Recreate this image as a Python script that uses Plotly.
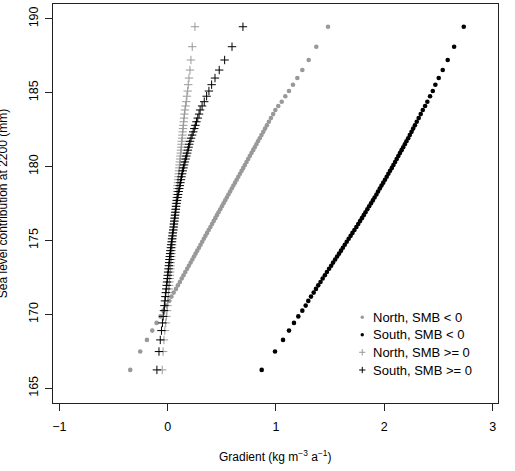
import plotly.graph_objects as go

# Sea level contribution at 2200 (mm) -- shared by all four series
sea_level = [
    166.24, 167.48, 168.27, 168.90, 169.42, 169.86, 170.25, 170.59, 170.91, 171.20, 171.47, 171.72,
    171.96, 172.19, 172.42, 172.64, 172.86, 173.08, 173.29, 173.50, 173.71, 173.91,
    174.11, 174.31, 174.51, 174.71, 174.91, 175.11, 175.31, 175.51, 175.71, 175.91,
    176.11, 176.31, 176.51, 176.71, 176.91, 177.11, 177.31, 177.51, 177.71, 177.91,
    178.11, 178.31, 178.51, 178.71, 178.91, 179.11, 179.31, 179.51, 179.71, 179.91,
    180.11, 180.31, 180.51, 180.71, 180.91, 181.11, 181.31, 181.51, 181.71,
    181.92, 182.13, 182.35, 182.57, 182.79, 183.03, 183.28, 183.55,
    183.83, 184.10, 184.39, 184.76, 185.11, 185.54, 185.99, 186.53, 187.21, 188.11, 189.46,
]

# Gradient (kg m-3 a-1) for each series
north_neg = [
    -0.345, -0.253, -0.191, -0.142, -0.102, -0.066, -0.039, -0.013, 0.012, 0.035, 0.056, 0.077,
    0.095, 0.113, 0.130, 0.147, 0.163, 0.180, 0.196, 0.212, 0.228, 0.243,
    0.258, 0.273, 0.289, 0.304, 0.319, 0.334, 0.349, 0.364, 0.379, 0.395,
    0.410, 0.425, 0.440, 0.455, 0.470, 0.486, 0.501, 0.516, 0.531, 0.546,
    0.561, 0.577, 0.592, 0.607, 0.622, 0.637, 0.652, 0.668, 0.683, 0.698,
    0.713, 0.728, 0.743, 0.758, 0.774, 0.789, 0.804, 0.819, 0.834,
    0.850, 0.866, 0.883, 0.899, 0.916, 0.934, 0.953, 0.974,
    0.994, 1.021, 1.053, 1.086, 1.120, 1.157, 1.197, 1.243, 1.302, 1.372, 1.480,
]
south_neg = [
    0.868, 0.991, 1.065, 1.120, 1.166, 1.206, 1.243, 1.274, 1.298, 1.323, 1.348, 1.369,
    1.390, 1.411, 1.431, 1.451, 1.470, 1.490, 1.509, 1.527, 1.546, 1.564,
    1.582, 1.600, 1.617, 1.635, 1.653, 1.671, 1.689, 1.706, 1.724, 1.742,
    1.759, 1.776, 1.793, 1.810, 1.826, 1.843, 1.860, 1.877, 1.894, 1.910,
    1.927, 1.942, 1.958, 1.974, 1.990, 2.006, 2.022, 2.037, 2.053, 2.069,
    2.084, 2.099, 2.114, 2.129, 2.144, 2.159, 2.174, 2.189, 2.204,
    2.220, 2.235, 2.251, 2.266, 2.282, 2.299, 2.317, 2.336,
    2.355, 2.376, 2.397, 2.422, 2.447, 2.471, 2.502, 2.539, 2.585, 2.644, 2.733,
]
north_pos = [
    -0.050, -0.042, -0.034, -0.026, -0.018, -0.012, -0.006, -0.002, 0.002, 0.006, 0.008, 0.011,
    0.014, 0.016, 0.018, 0.021, 0.023, 0.025, 0.027, 0.029, 0.032, 0.034,
    0.036, 0.038, 0.040, 0.042, 0.044, 0.046, 0.048, 0.050, 0.053, 0.056,
    0.058, 0.061, 0.063, 0.066, 0.069, 0.071, 0.074, 0.076, 0.079, 0.082,
    0.084, 0.087, 0.089, 0.092, 0.095, 0.097, 0.100, 0.102, 0.105, 0.108,
    0.110, 0.113, 0.115, 0.118, 0.121, 0.123, 0.126, 0.128, 0.131,
    0.134, 0.136, 0.139, 0.142, 0.145, 0.148, 0.151, 0.155,
    0.160, 0.166, 0.172, 0.178, 0.185, 0.190, 0.197, 0.206, 0.215, 0.227, 0.252,
]
south_pos = [
    -0.099, -0.080, -0.068, -0.057, -0.048, -0.041, -0.034, -0.030, -0.025, -0.021, -0.017, -0.013,
    -0.009, -0.006, -0.002, 0.001, 0.004, 0.008, 0.011, 0.014, 0.017, 0.020,
    0.023, 0.026, 0.030, 0.033, 0.037, 0.040, 0.044, 0.047, 0.051, 0.055,
    0.058, 0.062, 0.065, 0.069, 0.072, 0.076, 0.079, 0.083, 0.087, 0.092,
    0.097, 0.102, 0.108, 0.113, 0.118, 0.123, 0.128, 0.134, 0.139, 0.146,
    0.152, 0.159, 0.166, 0.173, 0.180, 0.187, 0.193, 0.200, 0.207,
    0.216, 0.226, 0.236, 0.246, 0.256, 0.266, 0.278, 0.290,
    0.300, 0.318, 0.338, 0.360, 0.381, 0.406, 0.437, 0.476, 0.526, 0.594, 0.695,
]

labels = ["North, SMB < 0", "South, SMB < 0", "North, SMB >= 0", "South, SMB >= 0"]
x_ticks = [-1, 0, 1, 2, 3]
y_ticks = [165, 170, 175, 180, 185, 190]

GRAY = "#999999"
BLACK = "#000000"
FONT = "Liberation Sans, Arial, Helvetica, sans-serif"

series = [north_neg, south_neg, north_pos, south_pos]
colors = [GRAY, BLACK, GRAY, BLACK]
is_dot = [True, True, False, False]

fig = go.Figure()
for xs, col, dot, lab in zip(series, colors, is_dot, labels):
    if dot:
        marker = dict(symbol="circle", size=4.6, color=col, line=dict(width=0))
    else:
        marker = dict(symbol="cross-thin", size=6, color=col, line=dict(width=1, color=col))
    fig.add_trace(go.Scatter(x=xs, y=sea_level, mode="markers", marker=marker,
                             name=lab, hoverinfo="skip"))

# Legend (manual, R style, no box)
leg_sym_x = 0.695
leg_txt_x = 0.714
leg_rows = [0.2148, 0.1712, 0.1271, 0.0827]
for lab, col, dot, ry in zip(labels, colors, is_dot, leg_rows):
    if dot:
        marker = dict(symbol="circle", size=3.4, color=col, line=dict(width=0))
    else:
        marker = dict(symbol="cross-thin", size=4.5, color=col, line=dict(width=1, color=col))
    fig.add_trace(go.Scatter(x=[leg_sym_x], y=[ry], mode="markers", marker=marker,
                             xaxis="x2", yaxis="y2", hoverinfo="skip", showlegend=False))
    fig.add_annotation(text=lab, xref="paper", yref="paper", x=leg_txt_x, y=ry,
                       xanchor="left", yanchor="middle", showarrow=False,
                       font=dict(family=FONT, size=13, color="black"))

axis_common = dict(showgrid=False, zeroline=False, showline=True, linecolor="#222222",
                   linewidth=1, mirror=True, ticks="outside", ticklen=7, tickwidth=1,
                   tickcolor="#222222", tickfont=dict(family=FONT, size=12.5, color="black"))

fig.update_layout(
    width=515, height=471,
    margin=dict(l=53, r=17, t=4, b=68),
    paper_bgcolor="white", plot_bgcolor="white",
    showlegend=False,
    xaxis=dict(range=[-1.058, 3.049], tickvals=x_ticks, ticklabelstandoff=5, **axis_common),
    yaxis=dict(range=[164.0, 191.0], tickvals=y_ticks, tickangle=-90, ticklabelstandoff=2,
               **axis_common),
    xaxis2=dict(overlaying="x", range=[0, 1], visible=False),
    yaxis2=dict(overlaying="y", range=[0, 1], visible=False),
)

fig.add_annotation(text="Gradient (kg m<sup>\u22123</sup> a<sup>\u22121</sup>)",
                   xref="paper", yref="paper", x=0.5, y=-0.132, xanchor="center",
                   yanchor="middle", showarrow=False,
                   font=dict(family=FONT, size=12, color="black"))
fig.add_annotation(text="Sea level contribution at 2200 (mm)", textangle=-90,
                   xref="paper", yref="paper", x=-0.113, y=0.5, xanchor="center",
                   yanchor="middle", showarrow=False,
                   font=dict(family=FONT, size=12, color="black"))

fig.write_html("out.html")
